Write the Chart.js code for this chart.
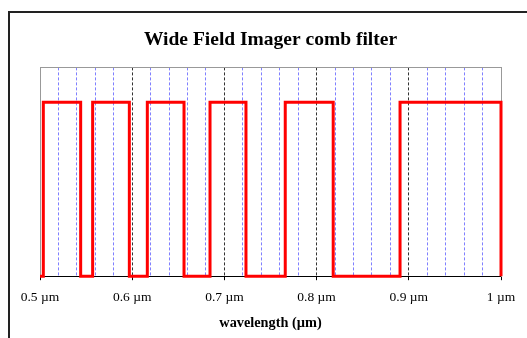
<!DOCTYPE html>
<html>
<head>
<meta charset="utf-8">
<script src="https://cdn.jsdelivr.net/npm/chart.js@4.4.1/dist/chart.umd.min.js"></script>
<style>
    html, body { margin: 0; padding: 0; background: #fff; }
    #wrap { position: relative; width: 527px; height: 338px; }
    #frame { position: absolute; left: 8px; top: 11px; right: 0; bottom: 0;
             border-top: 2px solid #222; border-left: 2px solid #222; }
</style>
</head>
<body>
<div id="wrap">
    <div id="frame"></div>
    <canvas id="myChart"></canvas>
</div>
<script>
// filter passbands (wavelength in µm)
const bandStart = [0.5036, 0.5571, 0.6164, 0.6844, 0.766, 0.8905];
const bandEnd = [0.5441, 0.5969, 0.6562, 0.7234, 0.818, 1.0];
const transmission = [1, 1, 1, 1, 1, 1];

// x axis
const majorTicks = [0.5, 0.6, 0.7, 0.8, 0.9, 1.0];
const tickLabels = ["0.5 µm", "0.6 µm", "0.7 µm", "0.8 µm", "0.9 µm", "1 µm"];

// build the comb as a closed step outline
let pts = [{ x: 0.5, y: 0 }];
for (let i in bandStart) {
    pts.push({ x: bandStart[i], y: 0 });
    pts.push({ x: bandStart[i], y: transmission[i] });
    pts.push({ x: bandEnd[i], y: transmission[i] });
    pts.push({ x: bandEnd[i], y: 0 });
}

function majorIndex(v) {
    for (let i in majorTicks) {
        if (Math.abs(v - majorTicks[i]) < 1e-6) return Number(i);
    }
    return -1;
}

const serif = "'Liberation Serif', 'Times New Roman', serif";

const config = {
    type: "line",
    data: {
        datasets: [{
            data: pts,
            borderColor: "#ff0000",
            borderWidth: 3,
            pointRadius: 0,
            tension: 0,
            fill: false,
            clip: false,
        }],
    },
    options: {
        responsive: true,
        maintainAspectRatio: false,
        animation: false,
        layout: {
            padding: { left: 40, right: 26, top: 0, bottom: 8 },
        },
        plugins: {
            legend: { display: false },
            tooltip: { enabled: false },
            title: {
                display: true,
                text: "Wide Field Imager comb filter",
                color: "#000",
                font: { family: serif, size: 19.5, weight: "bold" },
                padding: { top: 28, bottom: 16 },
            },
        },
        scales: {
            x: {
                type: "linear",
                position: "bottom",
                min: 0.5,
                max: 1.0,
                ticks: {
                    stepSize: 0.02,
                    autoSkip: false,
                    maxRotation: 0,
                    padding: 11,
                    color: "#000",
                    font: { family: serif, size: 13.5, lineHeight: 1 },
                    callback: (v) => {
                        let k = majorIndex(v);
                        return k == -1 ? "" : tickLabels[k];
                    },
                },
                grid: {
                    drawOnChartArea: true,
                    drawTicks: true,
                    tickLength: 4,
                    lineWidth: 1,
                    color: (ctx) => {
                        let v = ctx.tick.value;
                        if (v <= 0.5001 || v >= 0.9999) return "rgba(0,0,0,0)";
                        return majorIndex(v) == -1 ? "rgba(60,60,255,0.65)" : "#333";
                    },
                    tickColor: (ctx) => majorIndex(ctx.tick.value) == -1 ? "rgba(0,0,0,0)" : "#000",
                },
                border: { display: true, color: "#000", width: 1, dash: [3, 2] },
                title: {
                    display: true,
                    text: "wavelength (µm)",
                    color: "#000",
                    font: { family: serif, size: 14.3, weight: "bold", lineHeight: 1 },
                    padding: { top: 0, bottom: 0 },
                },
            },
            xTop: {
                type: "linear",
                position: "top",
                min: 0.5,
                max: 1.0,
                display: true,
                ticks: { display: false },
                grid: { display: false, drawTicks: false },
                border: { display: true, color: "#999", width: 1 },
            },
            y: {
                min: 0,
                max: 1.2,
                position: "left",
                ticks: { display: false },
                grid: { display: false, drawTicks: false },
                border: { display: true, color: "#999", width: 1 },
            },
            yRight: {
                min: 0,
                max: 1.2,
                position: "right",
                display: true,
                ticks: { display: false },
                grid: { display: false, drawTicks: false },
                border: { display: true, color: "#999", width: 1 },
            },
        },
    },
};

const myChart = new Chart(document.getElementById("myChart"), config);
</script>
</body>
</html>
